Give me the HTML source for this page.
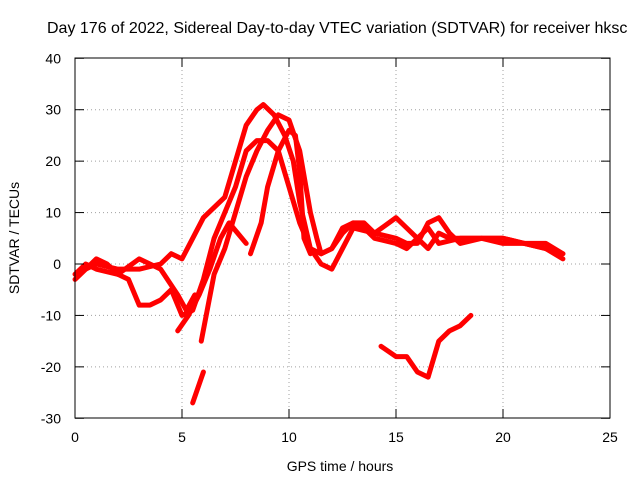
<!DOCTYPE html>
<html><head><meta charset="utf-8"><style>
body{margin:0;background:#fff;}
svg{display:block;font-family:"Liberation Sans",sans-serif;}
</style></head><body>
<svg width="640" height="480" viewBox="0 0 640 480">
<rect width="640" height="480" fill="#fff"/>
<text x="47" y="33" font-size="16" fill="#000">Day 176 of 2022, Sidereal Day-to-day VTEC variation (SDTVAR) for receiver hksc</text>
<g id="grid"></g>
<g id="series"></g>
<rect x="75" y="58" width="535" height="360" fill="none" stroke="#000" stroke-width="1"/>
<g id="ticks" font-size="14"></g>
<text x="340" y="471" font-size="14" text-anchor="middle">GPS time / hours</text>
<text x="19" y="238" font-size="14" text-anchor="middle" transform="rotate(-90 19 238)">SDTVAR / TECUs</text>
</svg>
<script>
const xTicks=[0,5,10,15,20,25];
const yTicks=[-30,-20,-10,0,10,20,30,40];
const s1=[[0.1,-2],[0.5,-1],[1,1],[1.5,0],[2,-2],[2.5,-3],[3,-8],[3.5,-8],[4,-7],[4.5,-5],[5,-10],[5.5,-9],[6,-3],[6.5,5],[7,10],[7.5,15],[8,22],[8.5,24],[9,24],[9.5,22],[10,15],[10.5,8],[11,3],[11.5,2],[12,3],[12.5,7],[13,8],[13.5,7],[14,5],[15,4],[15.5,3],[16,5],[16.5,7],[17,4],[18,5],[19,5],[20,4],[21,4],[22,3],[22.8,1]];
const s2=[[0,-3],[0.5,-1],[1,0],[2,-1],[3,-1],[4,0],[4.5,2],[5,1],[5.5,5],[6,9],[6.5,11],[7,13],[7.5,20],[8,27],[8.5,30],[8.8,31],[9.3,29],[9.8,25],[10.2,20],[10.5,12],[11,3],[11.5,0],[12,-1],[12.5,3],[13,7],[14,6],[15,5],[15.5,4],[16,4],[16.5,8],[17,9],[17.5,6],[18,4],[19,5],[20,5],[21,4],[22,3],[22.8,2]];
const s3=[[0,-2],[0.5,0],[1,-1],[2,-2],[3,1],[4,-1],[4.8,-6],[5.2,-9],[5.6,-6]];
const s4=[[5.9,-15],[6.5,-2],[7,3],[7.5,10],[8,17],[8.5,22],[9,26],[9.5,29],[10,28],[10.5,22],[11,10],[11.3,5],[11.5,2],[12,3],[12.5,6],[13,8],[13.5,8],[14,6],[15,9],[15.5,7],[16,5],[16.5,3],[17,6],[17.5,5],[18,5],[19,5],[20,5],[21,4],[22,4],[22.8,2]];
const s5=[[4.8,-13],[5.3,-10],[5.8,-6],[6.3,-1],[6.8,5],[7.2,8],[7.6,6],[8,4]];
const s6=[[8.2,2],[8.7,8],[9,15],[9.5,22],[10,26],[10.3,25],[10.5,18],[10.7,5],[11,2]];
const s7=[[5.5,-27],[6,-21]];
const s8=[[14.3,-16],[15,-18],[15.5,-18],[16,-21],[16.5,-22],[17,-15],[17.5,-13],[18,-12],[18.5,-10]];
const allSeries=[s1,s2,s3,s4,s5,s6,s7,s8];
const X=v=>75+v*535/25, Y=v=>264-v*360/70;
const ns="http://www.w3.org/2000/svg";
const grid=document.getElementById('grid'),ticks=document.getElementById('ticks'),ser=document.getElementById('series');
function mk(tag,attrs,parent){const e=document.createElementNS(ns,tag);for(const k in attrs)e.setAttribute(k,attrs[k]);parent.appendChild(e);return e;}
xTicks.forEach(t=>{const x=X(t);
 if(t>0&&t<25){const g=mk('line',{x1:x,x2:x,y1:58,y2:418,stroke:'#a0a0a0','stroke-dasharray':'1,3'},grid);}
 const a=mk('line',{x1:x,x2:x,y1:418,y2:409,stroke:'#000'},ticks);
 const b=mk('line',{x1:x,x2:x,y1:58,y2:67,stroke:'#000'},ticks);
 const l=mk('text',{x:x,y:442,'text-anchor':'middle'},ticks);l.textContent=t;});
yTicks.forEach(t=>{const y=Y(t);
 if(t>-30&&t<40){const g=mk('line',{x1:75,x2:610,y1:y,y2:y,stroke:'#a0a0a0','stroke-dasharray':'1,3'},grid);}
 const a=mk('line',{x1:75,x2:84,y1:y,y2:y,stroke:'#000'},ticks);
 const b=mk('line',{x1:601,x2:610,y1:y,y2:y,stroke:'#000'},ticks);
 const l=mk('text',{x:61,y:y+5,'text-anchor':'end'},ticks);l.textContent=t;});
allSeries.forEach((s,i)=>{const p=mk('polyline',{points:s.map(d=>X(d[0])+','+Y(d[1])).join(' '),fill:'none',stroke:'#ff0000','stroke-width':5,'stroke-linejoin':'round','stroke-linecap':'round'},ser);
 
 });
</script>
</body></html>
